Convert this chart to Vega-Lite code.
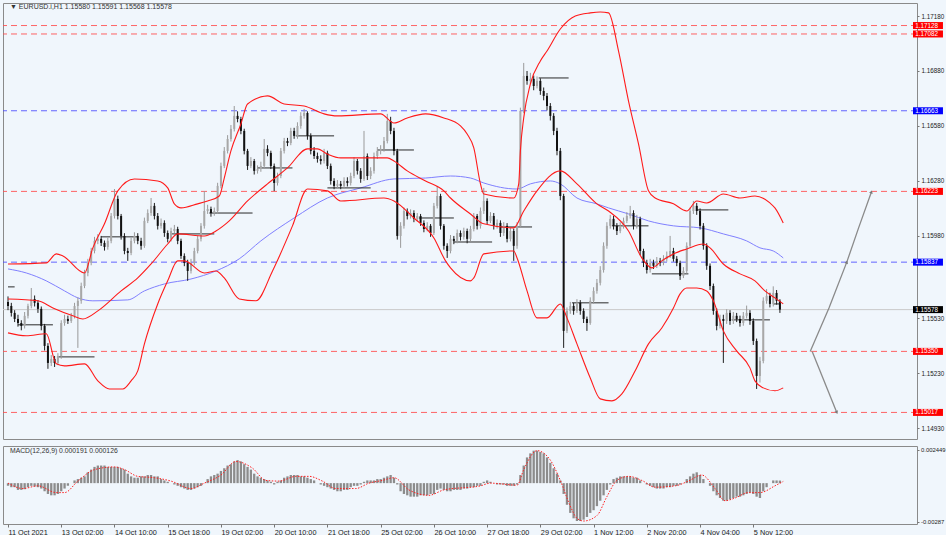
{
"$schema":"https://vega.github.io/schema/vega-lite/v6.json",
"background":"#F0F6FC",
"padding":{"left":2,"top":2,"right":0,"bottom":0},
"spacing":5,
"config":{"view":{"stroke":"#8a8a8a","strokeWidth":1},"axis":{"labelFont":"Liberation Sans","labelColor":"#222","tickColor":"#777","grid":false,"title":null,"domain":false}},
"resolve":{"scale":{"x":"independent","y":"independent"}},
"datasets":{
"candles":[
{"i":0,"o":1.1562,"h":1.1565,"l":1.15575,"c":1.15598,"m":-0.0002},
{"i":2,"o":1.15598,"h":1.15615,"l":1.1554,"c":1.1556,"m":-0.0003},
{"i":4,"o":1.1556,"h":1.15575,"l":1.1551,"c":1.15527,"m":-0.0003},
{"i":6,"o":1.15527,"h":1.1555,"l":1.15485,"c":1.15505,"m":-0.0005},
{"i":8,"o":1.15505,"h":1.1552,"l":1.15465,"c":1.15489,"m":-0.0005},
{"i":10,"o":1.15489,"h":1.15565,"l":1.15475,"c":1.15544,"m":-0.00045},
{"i":12,"o":1.15544,"h":1.1561,"l":1.1553,"c":1.15598,"m":-0.0003},
{"i":14,"o":1.15598,"h":1.15696,"l":1.15585,"c":1.15636,"m":-0.0002},
{"i":16,"o":1.15636,"h":1.15655,"l":1.15595,"c":1.15615,"m":-0.00025},
{"i":18,"o":1.15615,"h":1.1563,"l":1.1556,"c":1.15582,"m":-0.0003},
{"i":20,"o":1.15582,"h":1.15595,"l":1.15465,"c":1.15489,"m":-0.0004},
{"i":22,"o":1.15489,"h":1.155,"l":1.15355,"c":1.1538,"m":-0.0006},
{"i":24,"o":1.1538,"h":1.15395,"l":1.15255,"c":1.15287,"m":-0.0008},
{"i":26,"o":1.15287,"h":1.1533,"l":1.1527,"c":1.15309,"m":-0.0009},
{"i":28,"o":1.15309,"h":1.15325,"l":1.15265,"c":1.15287,"m":-0.0009},
{"i":30,"o":1.15287,"h":1.1534,"l":1.15275,"c":1.15325,"m":-0.0008},
{"i":32,"o":1.15325,"h":1.1552,"l":1.1531,"c":1.15505,"m":-0.0006},
{"i":34,"o":1.15505,"h":1.1555,"l":1.1549,"c":1.15527,"m":-0.0004},
{"i":36,"o":1.15527,"h":1.15545,"l":1.155,"c":1.15516,"m":-0.0002},
{"i":38,"o":1.15516,"h":1.1556,"l":1.15505,"c":1.15544,"m":0.0},
{"i":40,"o":1.15544,"h":1.15615,"l":1.1553,"c":1.15598,"m":0.0002},
{"i":42,"o":1.15598,"h":1.15645,"l":1.15369,"c":1.15626,"m":0.0003},
{"i":44,"o":1.15626,"h":1.15725,"l":1.1561,"c":1.15707,"m":0.0004},
{"i":46,"o":1.15707,"h":1.15795,"l":1.15695,"c":1.15778,"m":0.0005},
{"i":48,"o":1.15778,"h":1.15855,"l":1.1576,"c":1.15833,"m":0.0008},
{"i":50,"o":1.15833,"h":1.15915,"l":1.1582,"c":1.15898,"m":0.001},
{"i":52,"o":1.15898,"h":1.15975,"l":1.15885,"c":1.15953,"m":0.0012},
{"i":54,"o":1.15953,"h":1.1599,"l":1.15935,"c":1.15964,"m":0.0013},
{"i":56,"o":1.15964,"h":1.1598,"l":1.15925,"c":1.15942,"m":0.0013},
{"i":58,"o":1.15942,"h":1.15955,"l":1.159,"c":1.1592,"m":0.0013},
{"i":60,"o":1.1592,"h":1.1597,"l":1.15905,"c":1.15953,"m":0.0012},
{"i":62,"o":1.15953,"h":1.16105,"l":1.1594,"c":1.16089,"m":0.0012},
{"i":64,"o":1.16089,"h":1.16236,"l":1.16075,"c":1.16182,"m":0.0012},
{"i":66,"o":1.16182,"h":1.162,"l":1.1607,"c":1.16089,"m":0.0012},
{"i":68,"o":1.16089,"h":1.161,"l":1.1596,"c":1.1598,"m":0.0011},
{"i":70,"o":1.1598,"h":1.15995,"l":1.1588,"c":1.15898,"m":0.001},
{"i":72,"o":1.15898,"h":1.15915,"l":1.15844,"c":1.15887,"m":0.0007},
{"i":74,"o":1.15887,"h":1.1597,"l":1.15875,"c":1.15953,"m":0.0005},
{"i":76,"o":1.15953,"h":1.16,"l":1.1594,"c":1.1598,"m":0.0004},
{"i":78,"o":1.1598,"h":1.15995,"l":1.15935,"c":1.15953,"m":0.0004},
{"i":80,"o":1.15953,"h":1.1597,"l":1.15905,"c":1.15926,"m":0.0005},
{"i":82,"o":1.15926,"h":1.1608,"l":1.15915,"c":1.16062,"m":0.0005},
{"i":84,"o":1.16062,"h":1.16125,"l":1.1605,"c":1.16105,"m":0.0006},
{"i":86,"o":1.16105,"h":1.16187,"l":1.1609,"c":1.16144,"m":0.0006},
{"i":88,"o":1.16144,"h":1.1616,"l":1.1607,"c":1.16089,"m":0.0005},
{"i":90,"o":1.16089,"h":1.16105,"l":1.16015,"c":1.16035,"m":0.0005},
{"i":92,"o":1.16035,"h":1.16075,"l":1.1602,"c":1.16051,"m":0.0003},
{"i":94,"o":1.16051,"h":1.16065,"l":1.15975,"c":1.15996,"m":0.0002},
{"i":96,"o":1.15996,"h":1.1601,"l":1.15945,"c":1.15964,"m":0.0001},
{"i":98,"o":1.15964,"h":1.16025,"l":1.1595,"c":1.16007,"m":0.0},
{"i":100,"o":1.16007,"h":1.1604,"l":1.15995,"c":1.16018,"m":-0.0001},
{"i":102,"o":1.16018,"h":1.1603,"l":1.15935,"c":1.15953,"m":-0.0002},
{"i":104,"o":1.15953,"h":1.15965,"l":1.15855,"c":1.15871,"m":-0.0003},
{"i":106,"o":1.15871,"h":1.15885,"l":1.15815,"c":1.15833,"m":-0.0004},
{"i":108,"o":1.15833,"h":1.1585,"l":1.15735,"c":1.15789,"m":-0.0005},
{"i":110,"o":1.15789,"h":1.15855,"l":1.15775,"c":1.15833,"m":-0.0005},
{"i":112,"o":1.15833,"h":1.15915,"l":1.1582,"c":1.15898,"m":-0.0004},
{"i":114,"o":1.15898,"h":1.1598,"l":1.15885,"c":1.15964,"m":-0.0003},
{"i":116,"o":1.15964,"h":1.1605,"l":1.1595,"c":1.16035,"m":-0.0002},
{"i":118,"o":1.16035,"h":1.16225,"l":1.1602,"c":1.16116,"m":0.0},
{"i":120,"o":1.16116,"h":1.1615,"l":1.161,"c":1.16127,"m":0.0003},
{"i":122,"o":1.16127,"h":1.1614,"l":1.16085,"c":1.16105,"m":0.0005},
{"i":124,"o":1.16105,"h":1.16135,"l":1.1609,"c":1.16116,"m":0.0006},
{"i":126,"o":1.16116,"h":1.1627,"l":1.161,"c":1.16253,"m":0.0007},
{"i":128,"o":1.16253,"h":1.1638,"l":1.1624,"c":1.16362,"m":0.0009},
{"i":130,"o":1.16362,"h":1.16465,"l":1.1635,"c":1.16444,"m":0.0011},
{"i":132,"o":1.16444,"h":1.1653,"l":1.1643,"c":1.16509,"m":0.0013},
{"i":134,"o":1.16509,"h":1.16585,"l":1.16495,"c":1.16564,"m":0.0014},
{"i":136,"o":1.16564,"h":1.16689,"l":1.1655,"c":1.16635,"m":0.0016},
{"i":138,"o":1.16635,"h":1.1666,"l":1.166,"c":1.16618,"m":0.0017},
{"i":140,"o":1.16618,"h":1.1663,"l":1.16535,"c":1.16553,"m":0.0016},
{"i":142,"o":1.16553,"h":1.16565,"l":1.16425,"c":1.16444,"m":0.0014},
{"i":144,"o":1.16444,"h":1.16455,"l":1.1634,"c":1.16362,"m":0.0012},
{"i":146,"o":1.16362,"h":1.1641,"l":1.1635,"c":1.16389,"m":0.001},
{"i":148,"o":1.16389,"h":1.164,"l":1.16315,"c":1.16335,"m":0.0007},
{"i":150,"o":1.16335,"h":1.16365,"l":1.1632,"c":1.16345,"m":0.0005},
{"i":152,"o":1.16345,"h":1.16385,"l":1.1633,"c":1.16362,"m":0.0004},
{"i":154,"o":1.16362,"h":1.16509,"l":1.1635,"c":1.16455,"m":0.0003},
{"i":156,"o":1.16455,"h":1.16475,"l":1.16415,"c":1.16433,"m":0.0002},
{"i":158,"o":1.16433,"h":1.16445,"l":1.16345,"c":1.16362,"m":0.0001},
{"i":160,"o":1.16362,"h":1.16375,"l":1.16225,"c":1.16269,"m":-0.0001},
{"i":162,"o":1.16269,"h":1.16325,"l":1.16255,"c":1.16307,"m":0.0001},
{"i":164,"o":1.16307,"h":1.1646,"l":1.16295,"c":1.16444,"m":0.0002},
{"i":166,"o":1.16444,"h":1.16515,"l":1.1643,"c":1.16498,"m":0.0004},
{"i":168,"o":1.16498,"h":1.16515,"l":1.1647,"c":1.16487,"m":0.0005},
{"i":170,"o":1.16487,"h":1.1657,"l":1.16475,"c":1.16553,"m":0.0006},
{"i":172,"o":1.16553,"h":1.1657,"l":1.1651,"c":1.16526,"m":0.0006},
{"i":174,"o":1.16526,"h":1.166,"l":1.1651,"c":1.1658,"m":0.0006},
{"i":176,"o":1.1658,"h":1.16655,"l":1.16565,"c":1.16635,"m":0.0005},
{"i":178,"o":1.16635,"h":1.16673,"l":1.1662,"c":1.16651,"m":0.0005},
{"i":180,"o":1.16651,"h":1.1666,"l":1.16505,"c":1.16526,"m":0.0004},
{"i":182,"o":1.16526,"h":1.1654,"l":1.16425,"c":1.16444,"m":0.0003},
{"i":184,"o":1.16444,"h":1.16465,"l":1.164,"c":1.16416,"m":0.0002},
{"i":186,"o":1.16416,"h":1.16435,"l":1.1638,"c":1.164,"m":0.0},
{"i":188,"o":1.164,"h":1.1642,"l":1.1637,"c":1.16389,"m":-0.0001},
{"i":190,"o":1.16389,"h":1.16455,"l":1.16375,"c":1.16433,"m":-0.0002},
{"i":192,"o":1.16433,"h":1.16445,"l":1.16345,"c":1.16362,"m":-0.0003},
{"i":194,"o":1.16362,"h":1.16375,"l":1.1626,"c":1.1628,"m":-0.0004},
{"i":196,"o":1.1628,"h":1.16295,"l":1.16235,"c":1.16253,"m":-0.0005},
{"i":198,"o":1.16253,"h":1.16285,"l":1.1624,"c":1.16264,"m":-0.0006},
{"i":200,"o":1.16264,"h":1.1628,"l":1.16235,"c":1.16253,"m":-0.0006},
{"i":202,"o":1.16253,"h":1.163,"l":1.1624,"c":1.1628,"m":-0.0005},
{"i":204,"o":1.1628,"h":1.163,"l":1.1625,"c":1.16269,"m":-0.0005},
{"i":206,"o":1.16269,"h":1.16325,"l":1.16255,"c":1.16307,"m":-0.0003},
{"i":208,"o":1.16307,"h":1.1641,"l":1.16295,"c":1.16389,"m":-0.0002},
{"i":210,"o":1.16389,"h":1.164,"l":1.16315,"c":1.16335,"m":-0.0002},
{"i":212,"o":1.16335,"h":1.1635,"l":1.1627,"c":1.16291,"m":-0.0001},
{"i":214,"o":1.16291,"h":1.16553,"l":1.1628,"c":1.16416,"m":0.0001},
{"i":216,"o":1.16416,"h":1.1643,"l":1.16285,"c":1.16307,"m":0.0002},
{"i":218,"o":1.16307,"h":1.16355,"l":1.1629,"c":1.16335,"m":0.0002},
{"i":220,"o":1.16335,"h":1.16435,"l":1.1632,"c":1.16416,"m":0.0002},
{"i":222,"o":1.16416,"h":1.16465,"l":1.164,"c":1.16444,"m":0.0003},
{"i":224,"o":1.16444,"h":1.16475,"l":1.16425,"c":1.16455,"m":0.0003},
{"i":226,"o":1.16455,"h":1.1652,"l":1.1644,"c":1.16498,"m":0.0004},
{"i":228,"o":1.16498,"h":1.16646,"l":1.16485,"c":1.16607,"m":0.0005},
{"i":230,"o":1.16607,"h":1.1663,"l":1.16535,"c":1.16553,"m":0.0006},
{"i":232,"o":1.16553,"h":1.1657,"l":1.1642,"c":1.16444,"m":0.0004},
{"i":234,"o":1.16444,"h":1.16455,"l":1.1596,"c":1.1598,"m":-0.0001},
{"i":236,"o":1.1598,"h":1.16055,"l":1.15915,"c":1.16035,"m":-0.0006},
{"i":238,"o":1.16035,"h":1.16135,"l":1.1602,"c":1.16116,"m":-0.0008},
{"i":240,"o":1.16116,"h":1.1613,"l":1.1607,"c":1.16089,"m":-0.0009},
{"i":242,"o":1.16089,"h":1.16125,"l":1.16075,"c":1.16105,"m":-0.001},
{"i":244,"o":1.16105,"h":1.1612,"l":1.16055,"c":1.16073,"m":-0.001},
{"i":246,"o":1.16073,"h":1.16105,"l":1.1606,"c":1.16089,"m":-0.001},
{"i":248,"o":1.16089,"h":1.161,"l":1.16035,"c":1.16051,"m":-0.0009},
{"i":250,"o":1.16051,"h":1.16065,"l":1.16,"c":1.16018,"m":-0.0009},
{"i":252,"o":1.16018,"h":1.16055,"l":1.16005,"c":1.16035,"m":-0.0009},
{"i":254,"o":1.16035,"h":1.16045,"l":1.15975,"c":1.15996,"m":-0.0008},
{"i":256,"o":1.15996,"h":1.1616,"l":1.15985,"c":1.16144,"m":-0.0008},
{"i":258,"o":1.16144,"h":1.16253,"l":1.1613,"c":1.16198,"m":-0.0005},
{"i":260,"o":1.16198,"h":1.1621,"l":1.16015,"c":1.16035,"m":-0.0004},
{"i":262,"o":1.16035,"h":1.16045,"l":1.15905,"c":1.15926,"m":-0.0005},
{"i":264,"o":1.15926,"h":1.1594,"l":1.1586,"c":1.15898,"m":-0.0006},
{"i":266,"o":1.15898,"h":1.15985,"l":1.15885,"c":1.15964,"m":-0.0006},
{"i":268,"o":1.15964,"h":1.1598,"l":1.15935,"c":1.15953,"m":-0.0005},
{"i":270,"o":1.15953,"h":1.16015,"l":1.1594,"c":1.15996,"m":-0.0005},
{"i":272,"o":1.15996,"h":1.1601,"l":1.15955,"c":1.15975,"m":-0.0005},
{"i":274,"o":1.15975,"h":1.16025,"l":1.1596,"c":1.16007,"m":-0.0004},
{"i":276,"o":1.16007,"h":1.1602,"l":1.1594,"c":1.15964,"m":-0.0004},
{"i":278,"o":1.15964,"h":1.16035,"l":1.1595,"c":1.16018,"m":-0.0003},
{"i":280,"o":1.16018,"h":1.16105,"l":1.16005,"c":1.16089,"m":-0.0003},
{"i":282,"o":1.16089,"h":1.161,"l":1.16015,"c":1.16035,"m":-0.0002},
{"i":284,"o":1.16035,"h":1.16135,"l":1.1602,"c":1.16116,"m":-0.0002},
{"i":286,"o":1.16116,"h":1.16242,"l":1.161,"c":1.16171,"m":0.0001},
{"i":288,"o":1.16171,"h":1.16185,"l":1.16045,"c":1.16062,"m":0.0002},
{"i":290,"o":1.16062,"h":1.1611,"l":1.1605,"c":1.16089,"m":0.0001},
{"i":292,"o":1.16089,"h":1.16105,"l":1.16015,"c":1.16035,"m":0.0},
{"i":294,"o":1.16035,"h":1.1607,"l":1.1602,"c":1.16051,"m":-0.0001},
{"i":296,"o":1.16051,"h":1.16065,"l":1.15975,"c":1.15996,"m":-0.0001},
{"i":298,"o":1.15996,"h":1.16055,"l":1.1598,"c":1.16035,"m":-0.0001},
{"i":300,"o":1.16035,"h":1.1605,"l":1.15945,"c":1.15964,"m":-0.0002},
{"i":302,"o":1.15964,"h":1.16025,"l":1.1595,"c":1.16007,"m":-0.0002},
{"i":304,"o":1.16007,"h":1.1602,"l":1.15844,"c":1.15926,"m":-0.0002},
{"i":306,"o":1.15926,"h":1.16055,"l":1.1591,"c":1.16035,"m":-0.0001},
{"i":308,"o":1.16035,"h":1.1668,"l":1.16025,"c":1.16662,"m":0.0006},
{"i":310,"o":1.16662,"h":1.16924,"l":1.1665,"c":1.16853,"m":0.0013},
{"i":312,"o":1.16853,"h":1.1688,"l":1.16805,"c":1.16826,"m":0.0019},
{"i":314,"o":1.16826,"h":1.1687,"l":1.1681,"c":1.16837,"m":0.0022},
{"i":316,"o":1.16837,"h":1.16855,"l":1.16775,"c":1.16798,"m":0.0024},
{"i":318,"o":1.16798,"h":1.1685,"l":1.16785,"c":1.16826,"m":0.0024},
{"i":320,"o":1.16826,"h":1.1684,"l":1.1675,"c":1.16771,"m":0.0023},
{"i":322,"o":1.16771,"h":1.1679,"l":1.1672,"c":1.16744,"m":0.0022},
{"i":324,"o":1.16744,"h":1.1676,"l":1.16665,"c":1.16689,"m":0.0019},
{"i":326,"o":1.16689,"h":1.16705,"l":1.1661,"c":1.16635,"m":0.0015},
{"i":328,"o":1.16635,"h":1.1665,"l":1.1653,"c":1.16553,"m":0.0011},
{"i":330,"o":1.16553,"h":1.1657,"l":1.1642,"c":1.16444,"m":0.0007},
{"i":332,"o":1.16444,"h":1.1646,"l":1.16175,"c":1.16198,"m":0.0002},
{"i":334,"o":1.16198,"h":1.1621,"l":1.15369,"c":1.15462,"m":-0.0008},
{"i":336,"o":1.15462,"h":1.1559,"l":1.1545,"c":1.15571,"m":-0.0016},
{"i":338,"o":1.15571,"h":1.1562,"l":1.15555,"c":1.15598,"m":-0.0022},
{"i":340,"o":1.15598,"h":1.15615,"l":1.1555,"c":1.15571,"m":-0.0026},
{"i":342,"o":1.15571,"h":1.15635,"l":1.1556,"c":1.15615,"m":-0.0028},
{"i":344,"o":1.15615,"h":1.1563,"l":1.1555,"c":1.15571,"m":-0.0028},
{"i":346,"o":1.15571,"h":1.15585,"l":1.15505,"c":1.15527,"m":-0.0027},
{"i":348,"o":1.15527,"h":1.1554,"l":1.15462,"c":1.15505,"m":-0.0025},
{"i":350,"o":1.15505,"h":1.15645,"l":1.15495,"c":1.15626,"m":-0.0022},
{"i":352,"o":1.15626,"h":1.157,"l":1.1561,"c":1.1568,"m":-0.002},
{"i":354,"o":1.1568,"h":1.15745,"l":1.15665,"c":1.15724,"m":-0.0017},
{"i":356,"o":1.15724,"h":1.15815,"l":1.1571,"c":1.15794,"m":-0.0013},
{"i":358,"o":1.15794,"h":1.15945,"l":1.1578,"c":1.15926,"m":-0.0009},
{"i":360,"o":1.15926,"h":1.16055,"l":1.1591,"c":1.16035,"m":-0.0005},
{"i":362,"o":1.16035,"h":1.16095,"l":1.1602,"c":1.16073,"m":-0.0001},
{"i":364,"o":1.16073,"h":1.1609,"l":1.16015,"c":1.16035,"m":0.0003},
{"i":366,"o":1.16035,"h":1.1605,"l":1.15985,"c":1.16007,"m":0.0004},
{"i":368,"o":1.16007,"h":1.16055,"l":1.15995,"c":1.16035,"m":0.0005},
{"i":370,"o":1.16035,"h":1.1608,"l":1.1602,"c":1.16062,"m":0.0005},
{"i":372,"o":1.16062,"h":1.1611,"l":1.1605,"c":1.16089,"m":0.0005},
{"i":374,"o":1.16089,"h":1.16144,"l":1.16075,"c":1.16105,"m":0.0005},
{"i":376,"o":1.16105,"h":1.1612,"l":1.16015,"c":1.16035,"m":0.0004},
{"i":378,"o":1.16035,"h":1.16095,"l":1.1602,"c":1.16073,"m":0.0004},
{"i":380,"o":1.16073,"h":1.16085,"l":1.15875,"c":1.15898,"m":0.0002},
{"i":382,"o":1.15898,"h":1.1591,"l":1.1581,"c":1.15833,"m":0.0},
{"i":384,"o":1.15833,"h":1.1585,"l":1.15775,"c":1.15794,"m":-0.0001},
{"i":386,"o":1.15794,"h":1.15855,"l":1.1578,"c":1.15833,"m":-0.0002},
{"i":388,"o":1.15833,"h":1.1585,"l":1.158,"c":1.15817,"m":-0.0003},
{"i":390,"o":1.15817,"h":1.15865,"l":1.15805,"c":1.15844,"m":-0.0004},
{"i":392,"o":1.15844,"h":1.1586,"l":1.15815,"c":1.15833,"m":-0.0004},
{"i":394,"o":1.15833,"h":1.15875,"l":1.1582,"c":1.15855,"m":-0.0004},
{"i":396,"o":1.15855,"h":1.15895,"l":1.1584,"c":1.15871,"m":-0.0003},
{"i":398,"o":1.15871,"h":1.1598,"l":1.1586,"c":1.15898,"m":-0.0003},
{"i":400,"o":1.15898,"h":1.15915,"l":1.1584,"c":1.15855,"m":-0.0002},
{"i":402,"o":1.15855,"h":1.1587,"l":1.15815,"c":1.15833,"m":-0.0002},
{"i":404,"o":1.15833,"h":1.15845,"l":1.1574,"c":1.15762,"m":-0.0001},
{"i":406,"o":1.15762,"h":1.1581,"l":1.1575,"c":1.15789,"m":0.0},
{"i":408,"o":1.15789,"h":1.15945,"l":1.15775,"c":1.15926,"m":0.0003},
{"i":410,"o":1.15926,"h":1.16135,"l":1.15915,"c":1.16116,"m":0.0005},
{"i":412,"o":1.16116,"h":1.16171,"l":1.161,"c":1.16144,"m":0.0007},
{"i":414,"o":1.16144,"h":1.1616,"l":1.16095,"c":1.16116,"m":0.0008},
{"i":416,"o":1.16116,"h":1.1613,"l":1.16015,"c":1.16035,"m":0.0006},
{"i":418,"o":1.16035,"h":1.1605,"l":1.15905,"c":1.15926,"m":0.0003},
{"i":420,"o":1.15926,"h":1.1594,"l":1.15795,"c":1.15817,"m":0.0},
{"i":422,"o":1.15817,"h":1.1583,"l":1.15685,"c":1.15707,"m":-0.0002},
{"i":424,"o":1.15707,"h":1.1572,"l":1.1555,"c":1.15571,"m":-0.0006},
{"i":426,"o":1.15571,"h":1.15585,"l":1.15465,"c":1.15489,"m":-0.0009},
{"i":428,"o":1.15489,"h":1.1555,"l":1.15475,"c":1.15527,"m":-0.0011},
{"i":430,"o":1.15527,"h":1.1555,"l":1.15287,"c":1.15516,"m":-0.0013},
{"i":432,"o":1.15516,"h":1.1558,"l":1.155,"c":1.1556,"m":-0.0013},
{"i":434,"o":1.1556,"h":1.15575,"l":1.15495,"c":1.15516,"m":-0.0012},
{"i":436,"o":1.15516,"h":1.15565,"l":1.155,"c":1.15544,"m":-0.0011},
{"i":438,"o":1.15544,"h":1.1556,"l":1.1551,"c":1.15527,"m":-0.001},
{"i":440,"o":1.15527,"h":1.15545,"l":1.15485,"c":1.15505,"m":-0.001},
{"i":442,"o":1.15505,"h":1.15565,"l":1.1549,"c":1.15544,"m":-0.0009},
{"i":444,"o":1.15544,"h":1.156,"l":1.1553,"c":1.1556,"m":-0.0008},
{"i":446,"o":1.1556,"h":1.15575,"l":1.15495,"c":1.15516,"m":-0.0007},
{"i":448,"o":1.15516,"h":1.1553,"l":1.15385,"c":1.15407,"m":-0.0008},
{"i":450,"o":1.15407,"h":1.1542,"l":1.15145,"c":1.15216,"m":-0.001},
{"i":452,"o":1.15216,"h":1.1532,"l":1.1518,"c":1.15298,"m":-0.0011},
{"i":454,"o":1.15298,"h":1.15645,"l":1.15285,"c":1.15626,"m":-0.0006},
{"i":456,"o":1.15626,"h":1.1569,"l":1.1561,"c":1.15653,"m":-0.0003},
{"i":458,"o":1.15653,"h":1.1567,"l":1.1559,"c":1.15609,"m":0.0},
{"i":460,"o":1.15609,"h":1.15705,"l":1.15595,"c":1.15669,"m":0.0002},
{"i":462,"o":1.15669,"h":1.15685,"l":1.15605,"c":1.15626,"m":0.0002},
{"i":464,"o":1.15626,"h":1.15635,"l":1.1556,"c":1.15578,"m":0.00019}
],
"bands":[
{"s":"u","i":0,"p":1.15827},{"s":"u","i":23,"p":1.15833},{"s":"u","i":29,"p":1.15882},{"s":"u","i":33,"p":1.15871},{"s":"u","i":46,"p":1.15778},{"s":"u","i":51,"p":1.15915},{"s":"u","i":58,"p":1.16046},{"s":"u","i":66,"p":1.16226},{"s":"u","i":76,"p":1.16291},{"s":"u","i":90,"p":1.1628},{"s":"u","i":96,"p":1.16242},{"s":"u","i":100,"p":1.16155},{"s":"u","i":104,"p":1.16133},{"s":"u","i":114,"p":1.16155},{"s":"u","i":120,"p":1.16171},{"s":"u","i":127,"p":1.16198},{"s":"u","i":130,"p":1.16296},{"s":"u","i":134,"p":1.16444},{"s":"u","i":140,"p":1.16591},{"s":"u","i":144,"p":1.167},{"s":"u","i":156,"p":1.16744},{"s":"u","i":166,"p":1.167},{"s":"u","i":178,"p":1.16689},{"s":"u","i":190,"p":1.16646},{"s":"u","i":198,"p":1.16635},{"s":"u","i":224,"p":1.16646},{"s":"u","i":232,"p":1.16596},{"s":"u","i":240,"p":1.16624},{"s":"u","i":251,"p":1.16646},{"s":"u","i":262,"p":1.16624},{"s":"u","i":272,"p":1.1658},{"s":"u","i":276,"p":1.16536},{"s":"u","i":280,"p":1.1646},{"s":"u","i":284,"p":1.16264},{"s":"u","i":286,"p":1.16209},{"s":"u","i":304,"p":1.16187},{"s":"u","i":307,"p":1.16264},{"s":"u","i":308,"p":1.16444},{"s":"u","i":310,"p":1.16624},{"s":"u","i":314,"p":1.16809},{"s":"u","i":320,"p":1.16935},{"s":"u","i":324,"p":1.16989},{"s":"u","i":332,"p":1.17109},{"s":"u","i":341,"p":1.1718},{"s":"u","i":350,"p":1.17197},{"s":"u","i":356,"p":1.17202},{"s":"u","i":361,"p":1.17197},{"s":"u","i":367,"p":1.16989},{"s":"u","i":373,"p":1.16716},{"s":"u","i":379,"p":1.16482},{"s":"u","i":385,"p":1.16226},{"s":"u","i":389,"p":1.16187},{"s":"u","i":400,"p":1.16155},{"s":"u","i":408,"p":1.16116},{"s":"u","i":414,"p":1.16171},{"s":"u","i":420,"p":1.1616},{"s":"u","i":430,"p":1.16209},{"s":"u","i":440,"p":1.16187},{"s":"u","i":449,"p":1.16198},{"s":"u","i":458,"p":1.1616},{"s":"u","i":461,"p":1.16133},{"s":"u","i":466,"p":1.16051},
{"s":"m","i":0,"p":1.15636},{"s":"m","i":18,"p":1.15626},{"s":"m","i":27,"p":1.15587},{"s":"m","i":39,"p":1.15544},{"s":"m","i":45,"p":1.15527},{"s":"m","i":54,"p":1.15571},{"s":"m","i":68,"p":1.1568},{"s":"m","i":78,"p":1.15751},{"s":"m","i":86,"p":1.15827},{"s":"m","i":96,"p":1.15936},{"s":"m","i":102,"p":1.15991},{"s":"m","i":118,"p":1.1598},{"s":"m","i":125,"p":1.16007},{"s":"m","i":133,"p":1.16062},{"s":"m","i":144,"p":1.16171},{"s":"m","i":156,"p":1.16264},{"s":"m","i":168,"p":1.16351},{"s":"m","i":180,"p":1.16455},{"s":"m","i":186,"p":1.16455},{"s":"m","i":192,"p":1.16427},{"s":"m","i":200,"p":1.16406},{"s":"m","i":216,"p":1.16406},{"s":"m","i":228,"p":1.16406},{"s":"m","i":232,"p":1.16389},{"s":"m","i":240,"p":1.16335},{"s":"m","i":251,"p":1.1628},{"s":"m","i":262,"p":1.16226},{"s":"m","i":266,"p":1.16187},{"s":"m","i":278,"p":1.161},{"s":"m","i":286,"p":1.16046},{"s":"m","i":304,"p":1.16024},{"s":"m","i":310,"p":1.16116},{"s":"m","i":318,"p":1.16226},{"s":"m","i":332,"p":1.16335},{"s":"m","i":342,"p":1.16264},{"s":"m","i":354,"p":1.16155},{"s":"m","i":361,"p":1.16116},{"s":"m","i":373,"p":1.16007},{"s":"m","i":381,"p":1.1586},{"s":"m","i":387,"p":1.15806},{"s":"m","i":393,"p":1.15844},{"s":"m","i":400,"p":1.15882},{"s":"m","i":408,"p":1.15909},{"s":"m","i":418,"p":1.15936},{"s":"m","i":422,"p":1.15915},{"s":"m","i":430,"p":1.15827},{"s":"m","i":440,"p":1.15773},{"s":"m","i":449,"p":1.15735},{"s":"m","i":455,"p":1.1568},{"s":"m","i":461,"p":1.15642},{"s":"m","i":466,"p":1.15609},
{"s":"l","i":0,"p":1.15451},{"s":"l","i":11,"p":1.15435},{"s":"l","i":23,"p":1.15446},{"s":"l","i":29,"p":1.15282},{"s":"l","i":34,"p":1.15271},{"s":"l","i":46,"p":1.15282},{"s":"l","i":54,"p":1.15189},{"s":"l","i":61,"p":1.15145},{"s":"l","i":69,"p":1.15145},{"s":"l","i":74,"p":1.15189},{"s":"l","i":78,"p":1.15244},{"s":"l","i":82,"p":1.15391},{"s":"l","i":90,"p":1.15609},{"s":"l","i":96,"p":1.15735},{"s":"l","i":102,"p":1.15844},{"s":"l","i":106,"p":1.15844},{"s":"l","i":118,"p":1.15778},{"s":"l","i":125,"p":1.15789},{"s":"l","i":130,"p":1.15751},{"s":"l","i":139,"p":1.15636},{"s":"l","i":149,"p":1.15626},{"s":"l","i":159,"p":1.15789},{"s":"l","i":171,"p":1.16035},{"s":"l","i":180,"p":1.16236},{"s":"l","i":192,"p":1.16226},{"s":"l","i":200,"p":1.16171},{"s":"l","i":226,"p":1.16187},{"s":"l","i":232,"p":1.16171},{"s":"l","i":244,"p":1.16078},{"s":"l","i":256,"p":1.15969},{"s":"l","i":263,"p":1.15844},{"s":"l","i":266,"p":1.15806},{"s":"l","i":278,"p":1.15735},{"s":"l","i":280,"p":1.15751},{"s":"l","i":286,"p":1.15882},{"s":"l","i":304,"p":1.15898},{"s":"l","i":306,"p":1.1586},{"s":"l","i":312,"p":1.1568},{"s":"l","i":318,"p":1.15533},{"s":"l","i":324,"p":1.15533},{"s":"l","i":332,"p":1.15609},{"s":"l","i":336,"p":1.15533},{"s":"l","i":342,"p":1.15391},{"s":"l","i":350,"p":1.15205},{"s":"l","i":356,"p":1.15091},{"s":"l","i":363,"p":1.1508},{"s":"l","i":369,"p":1.15118},{"s":"l","i":377,"p":1.15244},{"s":"l","i":385,"p":1.15391},{"s":"l","i":393,"p":1.15478},{"s":"l","i":400,"p":1.15587},{"s":"l","i":404,"p":1.15664},{"s":"l","i":408,"p":1.15696},{"s":"l","i":414,"p":1.15696},{"s":"l","i":420,"p":1.1568},{"s":"l","i":424,"p":1.15626},{"s":"l","i":430,"p":1.15462},{"s":"l","i":438,"p":1.15353},{"s":"l","i":446,"p":1.1526},{"s":"l","i":449,"p":1.15189},{"s":"l","i":454,"p":1.15151},{"s":"l","i":461,"p":1.15135},{"s":"l","i":466,"p":1.15151},
{"s":"a","i":0,"p":1.158},{"s":"a","i":11,"p":1.15778},{"s":"a","i":23,"p":1.15735},{"s":"a","i":34,"p":1.1568},{"s":"a","i":42,"p":1.15642},{"s":"a","i":51,"p":1.15626},{"s":"a","i":72,"p":1.15631},{"s":"a","i":82,"p":1.1568},{"s":"a","i":94,"p":1.15718},{"s":"a","i":110,"p":1.15745},{"s":"a","i":125,"p":1.15789},{"s":"a","i":139,"p":1.15855},{"s":"a","i":152,"p":1.15953},{"s":"a","i":172,"p":1.16078},{"s":"a","i":192,"p":1.16187},{"s":"a","i":212,"p":1.16242},{"s":"a","i":232,"p":1.16291},{"s":"a","i":251,"p":1.16296},{"s":"a","i":266,"p":1.16307},{"s":"a","i":278,"p":1.16296},{"s":"a","i":286,"p":1.16269},{"s":"a","i":306,"p":1.16236},{"s":"a","i":314,"p":1.16264},{"s":"a","i":326,"p":1.1628},{"s":"a","i":332,"p":1.16264},{"s":"a","i":342,"p":1.16187},{"s":"a","i":354,"p":1.16155},{"s":"a","i":361,"p":1.16133},{"s":"a","i":373,"p":1.161},{"s":"a","i":385,"p":1.16062},{"s":"a","i":400,"p":1.16035},{"s":"a","i":416,"p":1.16024},{"s":"a","i":430,"p":1.15991},{"s":"a","i":444,"p":1.15953},{"s":"a","i":452,"p":1.15915},{"s":"a","i":460,"p":1.15898},{"s":"a","i":466,"p":1.1586}
],
"sig":[
{"i":0,"v":0},{"i":9,"v":-0.0004},{"i":18,"v":-0.0002},{"i":29,"v":-0.0007},{"i":34,"v":-0.0007},{"i":42,"v":0.00015},{"i":52,"v":0.001},{"i":64,"v":0.0012},{"i":70,"v":0.001},{"i":78,"v":0.0005},{"i":88,"v":0.0004},{"i":98,"v":0.00015},{"i":110,"v":-0.0004},{"i":118,"v":0},{"i":128,"v":0.0006},{"i":137,"v":0.0016},{"i":147,"v":0.0011},{"i":155,"v":0.0002},{"i":163,"v":0.00015},{"i":173,"v":0.0005},{"i":181,"v":0.0005},{"i":189,"v":0.00015},{"i":197,"v":-0.0004},{"i":209,"v":-0.0004},{"i":217,"v":0},{"i":225,"v":0.0002},{"i":232,"v":0.0004},{"i":241,"v":-0.0005},{"i":253,"v":-0.0009},{"i":262,"v":-0.0005},{"i":284,"v":-0.0002},{"i":290,"v":0},{"i":306,"v":-0.00015},{"i":310,"v":0.001},{"i":318,"v":0.0024},{"i":326,"v":0.0017},{"i":332,"v":0.0002},{"i":338,"v":-0.0017},{"i":342,"v":-0.0026},{"i":346,"v":-0.0028},{"i":354,"v":-0.0024},{"i":360,"v":-0.001},{"i":366,"v":0.0002},{"i":373,"v":0.0005},{"i":381,"v":0.0002},{"i":389,"v":-0.0003},{"i":401,"v":-0.0002},{"i":409,"v":0.00015},{"i":417,"v":0.0006},{"i":425,"v":-0.0004},{"i":431,"v":-0.0013},{"i":437,"v":-0.0011},{"i":445,"v":-0.0007},{"i":452,"v":-0.0007},{"i":461,"v":-0.0002},{"i":466,"v":0.000126}
],
"segs":[
{"a":0,"b":4,"p":1.15702},{"a":6,"b":27,"p":1.15495},{"a":30,"b":52,"p":1.1532},{"a":56,"b":78,"p":1.15975},{"a":98,"b":124,"p":1.15991},{"a":121,"b":147,"p":1.16105},{"a":150,"b":171,"p":1.16351},{"a":173,"b":196,"p":1.16526},{"a":192,"b":218,"p":1.16242},{"a":222,"b":244,"p":1.16449},{"a":247,"b":268,"p":1.16078},{"a":268,"b":291,"p":1.15947},{"a":296,"b":315,"p":1.16029},{"a":319,"b":337,"p":1.16842},{"a":339,"b":361,"p":1.15615},{"a":363,"b":385,"p":1.16035},{"a":387,"b":409,"p":1.15773},{"a":414,"b":433,"p":1.16122},{"a":435,"b":458,"p":1.15522},{"a":460,"b":464,"p":1.15609}
],
"levels":[
{"p":1.17128,"t":"r"},{"p":1.17082,"t":"r"},{"p":1.16663,"t":"b"},{"p":1.16223,"t":"r"},{"p":1.15837,"t":"b"},{"p":1.1535,"t":"r"},{"p":1.15017,"t":"r"},{"p":1.15578,"t":"k"}
],
"arrows":[
{"g":"up","i":482.2,"p":1.1535},{"g":"up","i":493.5,"p":1.15587},{"g":"up","i":504.2,"p":1.15837},{"g":"up","i":511.3,"p":1.16024},{"g":"up","i":519,"p":1.1622},
{"g":"dn","i":483.4,"p":1.1535},{"g":"dn","i":498.2,"p":1.15017}
],
"heads":[
{"g":"up","i":504.2,"p":1.15837},{"g":"up","i":519,"p":1.1622},{"g":"dn","i":498.2,"p":1.15017}
]
},
"vconcat":[
{
"width":914,"height":436,
"layer":[
{"data":{"name":"levels"},"transform":[{"filter":"datum.t=='k'"}],"mark":{"type":"rule","color":"#c9c9c9","strokeWidth":1,"clip":true},"encoding":{"y":{"field":"p","type":"quantitative","scale":{"domain":[1.14872,1.17251],"nice":false,"zero":false},"axis":{"orient":"right","values":[1.1718,1.1703,1.1688,1.1673,1.1658,1.1643,1.1628,1.1613,1.1598,1.1568,1.1553,1.1538,1.1523,1.1508,1.1493],"format":".5f","labelFontSize":6.3,"tickSize":2,"labelPadding":2}}}},
{"data":{"name":"levels"},"transform":[{"filter":"datum.t=='r'"}],"mark":{"type":"rule","color":"#ff4a4a","strokeWidth":1,"strokeDash":[6,4],"opacity":0.85,"clip":true},"encoding":{"y":{"field":"p","type":"quantitative"}}},
{"data":{"name":"levels"},"transform":[{"filter":"datum.t=='b'"}],"mark":{"type":"rule","color":"#4a4aff","strokeWidth":1,"strokeDash":[6,4],"opacity":0.85,"clip":true},"encoding":{"y":{"field":"p","type":"quantitative"}}},
{"data":{"name":"bands"},"transform":[{"filter":"datum.s=='a'"}],"mark":{"type":"line","color":"#8080ff","strokeWidth":1,"interpolate":"monotone","clip":true},"encoding":{"x":{"field":"i","type":"quantitative","scale":{"domain":[0,543.4],"nice":false,"zero":false},"axis":null},"y":{"field":"p","type":"quantitative"}}},
{"data":{"name":"segs"},"mark":{"type":"rule","color":"#2a2a2a","strokeWidth":1,"clip":true},"encoding":{"x":{"field":"a","type":"quantitative"},"x2":{"field":"b"},"y":{"field":"p","type":"quantitative"}}},
{"data":{"name":"candles"},"mark":{"type":"rule","strokeWidth":1,"clip":true},"encoding":{"x":{"field":"i","type":"quantitative"},"y":{"field":"l","type":"quantitative"},"y2":{"field":"h"},"color":{"condition":{"test":"datum.c >= datum.o","value":"#9a9a9a"},"value":"#1e1e1e"}}},
{"data":{"name":"candles"},"mark":{"type":"bar","width":2,"clip":true},"encoding":{"x":{"field":"i","type":"quantitative"},"y":{"field":"o","type":"quantitative"},"y2":{"field":"c"},"color":{"condition":{"test":"datum.c >= datum.o","value":"#a8a8a8"},"value":"#111111"}}},
{"data":{"name":"bands"},"transform":[{"filter":"datum.s!='a'"}],"mark":{"type":"line","color":"#ff1a1a","strokeWidth":1.1,"interpolate":"monotone","clip":true},"encoding":{"x":{"field":"i","type":"quantitative"},"y":{"field":"p","type":"quantitative"},"detail":{"field":"s"}}},
{"data":{"name":"arrows"},"mark":{"type":"line","color":"#8a8a8a","strokeWidth":1.3,"clip":true},"encoding":{"x":{"field":"i","type":"quantitative"},"y":{"field":"p","type":"quantitative"},"detail":{"field":"g"}}},
{"data":{"name":"heads"},"transform":[{"filter":"datum.g=='up'"}],"mark":{"type":"point","shape":"triangle-up","filled":true,"size":14,"angle":20,"color":"#7a7a7a","opacity":1},"encoding":{"x":{"field":"i","type":"quantitative"},"y":{"field":"p","type":"quantitative"}}},
{"data":{"name":"heads"},"transform":[{"filter":"datum.g=='dn'"}],"mark":{"type":"point","shape":"triangle-up","filled":true,"size":14,"angle":157,"color":"#7a7a7a","opacity":1},"encoding":{"x":{"field":"i","type":"quantitative"},"y":{"field":"p","type":"quantitative"}}},
{"data":{"name":"levels"},"mark":{"type":"tick","orient":"horizontal","size":30,"thickness":7,"opacity":1},"encoding":{"x":{"datum":553},"y":{"field":"p","type":"quantitative"},"color":{"field":"t","type":"nominal","scale":{"domain":["r","b","k"],"range":["#ff0000","#0000ff","#000000"]},"legend":null}}},
{"data":{"name":"levels"},"mark":{"type":"text","align":"left","baseline":"middle","fontSize":6.3,"font":"Liberation Sans","color":"#ffffff"},"encoding":{"x":{"datum":545.3},"y":{"field":"p","type":"quantitative"},"text":{"field":"p","type":"quantitative","format":".5f"}}},
{"data":{"values":[{"t":"▼  EURUSD.i,H1  1.15580 1.15591 1.15568 1.15578"}]},"mark":{"type":"text","align":"left","baseline":"middle","fontSize":7,"font":"Liberation Sans","color":"#333333"},"encoding":{"x":{"datum":1.2},"y":{"datum":1.17229},"text":{"field":"t"}}}
]
},
{
"width":914,"height":78,
"layer":[
{"data":{"name":"candles"},"mark":{"type":"bar","width":2.3,"color":"#8c8c8c","clip":true},"encoding":{"x":{"field":"i","type":"quantitative","scale":{"domain":[0,543.4],"nice":false,"zero":false},"axis":{"orient":"bottom","values":[0,32,64,96,128,160,192,224,256,288,320,352,384,416,448],"labelExpr":"['11 Oct 2021','13 Oct 02:00','14 Oct 10:00','15 Oct 18:00','19 Oct 02:00','20 Oct 10:00','21 Oct 18:00','25 Oct 02:00','26 Oct 10:00','27 Oct 18:00','29 Oct 02:00','1 Nov 12:00','2 Nov 20:00','4 Nov 04:00','5 Nov 12:00'][round(datum.value/32)]","labelAlign":"left","labelFontSize":7.3,"tickSize":3,"labelPadding":1,"labelOverlap":false,"labelFlush":false}},"y":{"field":"m","type":"quantitative","scale":{"domain":[-0.00302,0.002744],"nice":false,"zero":false},"axis":{"orient":"right","values":[0.002449,0,-0.00287],"labelExpr":"datum.value > 0.001 ? '0.002449' : (datum.value < -0.001 ? '-0.00287' : '0.00')","labelFontSize":5.9,"tickSize":2,"labelPadding":1.5}},"y2":{"datum":0}}},
{"data":{"name":"sig"},"mark":{"type":"line","color":"#ff2020","strokeWidth":1,"strokeDash":[1.5,1.5],"interpolate":"monotone","clip":true},"encoding":{"x":{"field":"i","type":"quantitative"},"y":{"field":"v","type":"quantitative"}}},
{"data":{"values":[{"t":"MACD(12,26,9) 0.000191 0.000126"}]},"mark":{"type":"text","align":"left","baseline":"middle","fontSize":6.8,"font":"Liberation Sans","color":"#333333"},"encoding":{"x":{"datum":1.2},"y":{"datum":0.00236},"text":{"field":"t"}}}
]
}
]
}
